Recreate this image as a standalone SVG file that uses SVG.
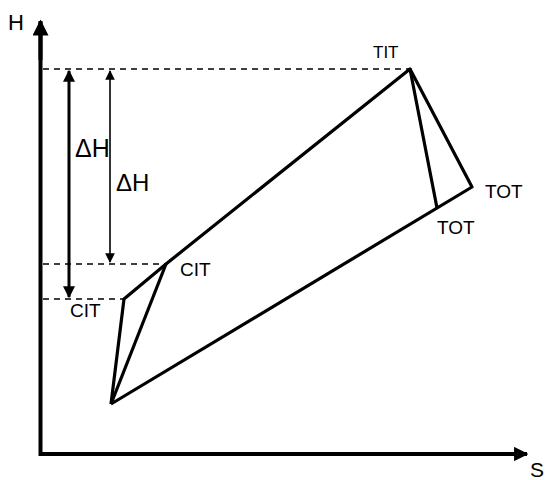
<svg xmlns="http://www.w3.org/2000/svg" width="547" height="480" viewBox="0 0 547 480">
<style>
.ax{stroke:#000;stroke-width:4;fill:none}
.cyc{stroke:#000;stroke-width:3.2;fill:none;stroke-linejoin:round}
.dash{stroke:#000;stroke-width:1.5;stroke-dasharray:6,5;fill:none}
.lbl{font-family:"Liberation Sans",Arial,sans-serif;fill:#000}
</style>
<defs>
<marker id="ahy" viewBox="0 0 10 10" refX="9" refY="5" markerWidth="4.5" markerHeight="4" orient="auto" markerUnits="strokeWidth"><path d="M0,0 L10,5 L0,10 z" fill="#000"/></marker>
<marker id="ahx" viewBox="0 0 10 10" refX="9" refY="5" markerWidth="3.6" markerHeight="3.6" orient="auto" markerUnits="strokeWidth"><path d="M0,0 L10,5 L0,10 z" fill="#000"/></marker>
<marker id="ahs" viewBox="0 0 10 10" refX="9" refY="5" markerWidth="4.5" markerHeight="4" orient="auto-start-reverse" markerUnits="strokeWidth"><path d="M0,0 L10,5 L0,10 z" fill="#000"/></marker>
<marker id="aht" viewBox="0 0 10 10" refX="9" refY="5" markerWidth="7" markerHeight="6" orient="auto-start-reverse" markerUnits="strokeWidth"><path d="M0,0 L10,5 L0,10 z" fill="#000"/></marker>
</defs>
<g id="axes">
<polyline class="ax" points="40.5,22 40.5,454 527,454" marker-end="url(#ahx)"/>
<line class="ax" x1="40.5" y1="60" x2="40.5" y2="21" marker-end="url(#ahy)"/>
<text class="lbl" x="8" y="30" font-size="22">H</text>
<text class="lbl" x="530" y="477" font-size="21">S</text>
</g>
<g id="connectors">
<line class="dash" x1="43" y1="69" x2="410" y2="69"/>
<line class="dash" x1="43" y1="264" x2="166" y2="264"/>
<line class="dash" x1="43" y1="299" x2="124" y2="299"/>
<line stroke="#000" stroke-width="3" x1="69" y1="71" x2="69" y2="297" marker-start="url(#ahs)" marker-end="url(#ahs)"/>
<line stroke="#000" stroke-width="1.6" x1="110" y1="71" x2="110" y2="262" marker-start="url(#aht)" marker-end="url(#aht)"/>
<polyline class="cyc" points="111,404 124,299 166,264 410,69 437,208"/>
<line class="cyc" x1="111" y1="404" x2="166" y2="264"/>
<polyline class="cyc" points="410,69 472,187 111,404"/>
</g>
<g id="labels">
<text class="lbl" x="75" y="157" font-size="25">ΔH</text>
<text class="lbl" x="116" y="191" font-size="24">ΔH</text>
<text class="lbl" x="373" y="58" font-size="17">TIT</text>
<text class="lbl" x="485" y="198" font-size="19">TOT</text>
<text class="lbl" x="437" y="234" font-size="19">TOT</text>
<text class="lbl" x="180" y="276" font-size="19">CIT</text>
<text class="lbl" x="70" y="317" font-size="19">CIT</text>
</g>
</svg>
